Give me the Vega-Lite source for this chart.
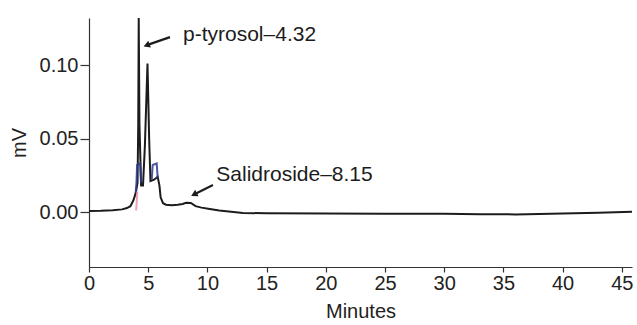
{
  "$schema": "https://vega.github.io/schema/vega-lite/v6.json",
  "width": 543,
  "height": 249,
  "autosize": {"type": "none"},
  "padding": {"left": 89, "top": 18, "right": 5, "bottom": 58},
  "config": {
    "font": "Liberation Sans",
    "view": {"stroke": null},
    "axis": {"domainColor": "#333", "tickColor": "#333", "labelColor": "#222", "titleColor": "#222", "labelFontSize": 20, "titleFontSize": 20, "titleFontWeight": "normal", "grid": false, "domainWidth": 1.2, "tickWidth": 1.2}
  },
  "datasets": {
    "trace": [
      {"t": 0, "mv": 0.0007, "trace": "main"},
      {"t": 1, "mv": 0.0008, "trace": "main"},
      {"t": 2, "mv": 0.0012, "trace": "main"},
      {"t": 2.8, "mv": 0.0018, "trace": "main"},
      {"t": 3.2, "mv": 0.0027, "trace": "main"},
      {"t": 3.5, "mv": 0.004, "trace": "main"},
      {"t": 3.75, "mv": 0.008, "trace": "main"},
      {"t": 3.95, "mv": 0.013, "trace": "main"},
      {"t": 4.1, "mv": 0.02, "trace": "main"},
      {"t": 4.16, "mv": 0.06, "trace": "main"},
      {"t": 4.2, "mv": 0.132, "trace": "main"},
      {"t": 4.26, "mv": 0.06, "trace": "main"},
      {"t": 4.4, "mv": 0.018, "trace": "main"},
      {"t": 4.56, "mv": 0.018, "trace": "main"},
      {"t": 4.72, "mv": 0.045, "trace": "main"},
      {"t": 4.94, "mv": 0.101, "trace": "main"},
      {"t": 5.08, "mv": 0.05, "trace": "main"},
      {"t": 5.19, "mv": 0.021, "trace": "main"},
      {"t": 5.5, "mv": 0.022, "trace": "main"},
      {"t": 5.8, "mv": 0.024, "trace": "main"},
      {"t": 5.95, "mv": 0.018, "trace": "main"},
      {"t": 6.05, "mv": 0.01, "trace": "main"},
      {"t": 6.25, "mv": 0.006, "trace": "main"},
      {"t": 6.5, "mv": 0.005, "trace": "main"},
      {"t": 7.0, "mv": 0.0046, "trace": "main"},
      {"t": 7.5, "mv": 0.005, "trace": "main"},
      {"t": 7.9, "mv": 0.0055, "trace": "main"},
      {"t": 8.2, "mv": 0.0063, "trace": "main"},
      {"t": 8.6, "mv": 0.0062, "trace": "main"},
      {"t": 9.0, "mv": 0.004, "trace": "main"},
      {"t": 9.5, "mv": 0.003, "trace": "main"},
      {"t": 10.2, "mv": 0.002, "trace": "main"},
      {"t": 11, "mv": 0.001, "trace": "main"},
      {"t": 12, "mv": 0.0002, "trace": "main"},
      {"t": 13, "mv": -0.0006, "trace": "main"},
      {"t": 15, "mv": -0.0009, "trace": "main"},
      {"t": 20, "mv": -0.001, "trace": "main"},
      {"t": 25, "mv": -0.0011, "trace": "main"},
      {"t": 30, "mv": -0.0012, "trace": "main"},
      {"t": 33, "mv": -0.0015, "trace": "main"},
      {"t": 36, "mv": -0.0016, "trace": "main"},
      {"t": 38, "mv": -0.0014, "trace": "main"},
      {"t": 41, "mv": -0.0009, "trace": "main"},
      {"t": 43, "mv": -0.0005, "trace": "main"},
      {"t": 45.86, "mv": 0.0002, "trace": "main"},
      {"t": 3.95, "mv": 0.013, "trace": "blue1"},
      {"t": 4.02, "mv": 0.022, "trace": "blue1"},
      {"t": 4.06, "mv": 0.032, "trace": "blue1"},
      {"t": 4.32, "mv": 0.033, "trace": "blue1"},
      {"t": 4.4, "mv": 0.02, "trace": "blue1"},
      {"t": 5.3, "mv": 0.022, "trace": "blue2"},
      {"t": 5.38, "mv": 0.032, "trace": "blue2"},
      {"t": 5.72, "mv": 0.033, "trace": "blue2"},
      {"t": 5.8, "mv": 0.023, "trace": "blue2"},
      {"t": 3.98, "mv": 0.001, "trace": "pink"},
      {"t": 4.04, "mv": 0.008, "trace": "pink"},
      {"t": 4.08, "mv": 0.014, "trace": "pink"}
    ],
    "labels": [
      {"label": "p-tyrosol–4.32", "t": 7.94, "mv": 0.1204, "t0": 6.84, "mv0": 0.119, "t1": 4.95, "mv1": 0.1137, "angle": 249},
      {"label": "Salidroside–8.15", "t": 10.75, "mv": 0.025, "t0": 10.47, "mv0": 0.0184, "t1": 8.95, "mv1": 0.0123, "angle": 243}
    ]
  },
  "layer": [
    {
      "data": {"name": "trace"},
      "transform": [{"filter": "datum.trace === 'main'"}],
      "mark": {"type": "line", "color": "#1c1c1c", "strokeWidth": 2, "clip": true},
      "encoding": {
        "x": {"field": "t", "type": "quantitative", "scale": {"domain": [0, 45.86], "nice": false, "zero": false},
          "axis": {"title": "Minutes", "values": [0, 5, 10, 15, 20, 25, 30, 35, 40, 45], "tickSize": 5, "labelPadding": 1, "titlePadding": 8, "labelFlush": false}},
        "y": {"field": "mv", "type": "quantitative", "scale": {"domain": [-0.0374, 0.132], "nice": false, "zero": false},
          "axis": {"title": "mV", "values": [0, 0.05, 0.1], "format": ".2f", "tickSize": 9, "labelPadding": 2, "titlePadding": 10}}
      }
    },
    {
      "data": {"name": "trace"},
      "transform": [{"filter": "datum.trace === 'blue1' || datum.trace === 'blue2'"}],
      "mark": {"type": "line", "color": "#2b3990", "strokeWidth": 2, "opacity": 0.85},
      "encoding": {
        "x": {"field": "t", "type": "quantitative"},
        "y": {"field": "mv", "type": "quantitative"},
        "detail": {"field": "trace"}
      }
    },
    {
      "data": {"name": "trace"},
      "transform": [{"filter": "datum.trace === 'pink'"}],
      "mark": {"type": "line", "color": "#f08aa8", "strokeWidth": 2, "opacity": 0.8},
      "encoding": {
        "x": {"field": "t", "type": "quantitative"},
        "y": {"field": "mv", "type": "quantitative"}
      }
    },
    {
      "data": {"name": "labels"},
      "mark": {"type": "rule", "color": "#1c1c1c", "strokeWidth": 2.2},
      "encoding": {
        "x": {"field": "t0", "type": "quantitative"},
        "y": {"field": "mv0", "type": "quantitative"},
        "x2": {"field": "t1"},
        "y2": {"field": "mv1"}
      }
    },
    {
      "data": {"name": "labels"},
      "mark": {"type": "point", "shape": "triangle", "filled": true, "color": "#1c1c1c", "size": 55, "opacity": 1},
      "encoding": {
        "x": {"field": "t1", "type": "quantitative"},
        "y": {"field": "mv1", "type": "quantitative"},
        "angle": {"field": "angle", "type": "quantitative", "scale": null}
      }
    },
    {
      "data": {"name": "labels"},
      "mark": {"type": "text", "align": "left", "baseline": "middle", "fontSize": 21, "color": "#1c1c1c"},
      "encoding": {
        "x": {"field": "t", "type": "quantitative"},
        "y": {"field": "mv", "type": "quantitative"},
        "text": {"field": "label"}
      }
    }
  ]
}
